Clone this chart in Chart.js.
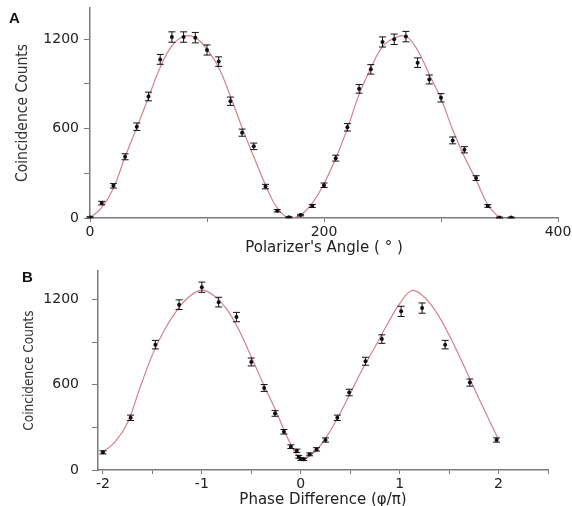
<!DOCTYPE html>
<html>
<head>
<meta charset="utf-8">
<script src="https://cdn.jsdelivr.net/npm/chart.js@4"></script>
<style>
  body { margin: 0; background: #fff; }
  #wrap { position: relative; width: 572px; height: 506px; overflow: hidden; background: #fff; }
  canvas { position: absolute; left: 0; }
  .panel { position: absolute; font: bold 15px "Liberation Sans", Arial, sans-serif; color: #111; line-height: 17px; }
</style>
</head>
<body>
<div id="wrap">
  <canvas id="chartA" width="572" height="262" style="top:0"></canvas>
  <canvas id="chartB" width="572" height="246" style="top:262px"></canvas>
  <div class="panel" style="left:9px;top:9px">A</div>
  <div class="panel" style="left:22px;top:268px">B</div>
</div>
<script>
// panel A: polarizer angle scan
const angleA = [0, 10, 20, 30, 40, 50, 60, 70, 80, 90, 100, 110, 120, 130, 140, 150, 160, 170,
  180, 190, 200, 210, 220, 230, 240, 250, 260, 270, 280, 290, 300, 310, 320, 330, 340, 350, 360];
const countsA = [5, 100, 216, 411, 613, 816, 1065, 1215, 1215, 1211, 1128, 1050, 784, 573, 481, 211, 49, 5,
  20, 81, 220, 402, 609, 867, 998, 1182, 1200, 1218, 1043, 930, 807, 521, 458, 268, 81, 3, 3];
const errA = [4, 12, 15, 20, 25, 29, 33, 35, 35, 35, 34, 32, 28, 24, 22, 15, 8, 4,
  5, 10, 15, 20, 25, 29, 32, 34, 35, 35, 32, 30, 28, 23, 21, 16, 9, 3, 3];
const fitAngleA = [0, 10, 20, 30, 40, 50, 60, 70, 80, 90, 100, 110, 120, 130, 140, 150, 160, 170,
  180, 190, 200, 210, 220, 230, 240, 250, 260, 270, 280, 290, 300, 310, 320, 330, 340, 350];
const fitCountsA = [0, 70, 200, 411, 607, 809, 1011, 1155, 1220, 1211, 1133, 1011, 818, 607, 411, 222, 67, 0,
  20, 100, 230, 400, 600, 830, 1006, 1150, 1207, 1220, 1126, 964, 800, 593, 411, 256, 88, 0];
const ticksAX = [0, 100, 200, 300, 400];
const labelsAX = [0, 200, 400];
const ticksAY = [0, 300, 600, 900, 1200];
const labelsAY = [0, 600, 1200];

// panel B: phase difference scan
const phaseB = [-2, -1.72, -1.47, -1.23, -1.0, -0.83, -0.65, -0.5, -0.37, -0.26, -0.17, -0.1, -0.04, -0.02,
  0, 0.03, 0.09, 0.16, 0.25, 0.37, 0.49, 0.655, 0.82, 1.015, 1.227, 1.46, 1.71, 1.98];
const countsB = [124, 367, 882, 1163, 1286, 1181, 1076, 760, 577, 398, 269, 164, 135, 93,
  77, 75, 110, 145, 211, 367, 545, 765, 921, 1116, 1139, 882, 615, 211];
const errB = [11, 19, 30, 34, 36, 34, 33, 28, 24, 20, 16, 13, 12, 10,
  9, 9, 10, 12, 15, 19, 23, 28, 30, 36, 36, 30, 25, 15];
const fitPhaseB = [-2, -1.875, -1.75, -1.625, -1.5, -1.375, -1.25, -1.125, -1, -0.875, -0.75, -0.625,
  -0.5, -0.375, -0.25, -0.125, 0, 0.125, 0.25, 0.375, 0.5, 0.625, 0.75, 0.875,
  1, 1.125, 1.25, 1.375, 1.5, 1.625, 1.75, 1.875, 2];
const fitCountsB = [125, 200, 335, 580, 810, 990, 1125, 1220, 1265, 1225, 1134, 985,
  795, 600, 415, 215, 80, 120, 222, 370, 538, 710, 865, 1025,
  1170, 1263, 1215, 1105, 950, 770, 580, 395, 215];
const ticksBX = [-2, -1.5, -1, -0.5, 0, 0.5, 1, 1.5, 2, 2.5];
const labelsBX = [-2, -1, 0, 1, 2];
const ticksBY = [0, 300, 600, 900, 1200];
const labelsBY = [0, 600, 1200];

const axisColor = '#7a7a7a';
const tickFont = { family: '"DejaVu Sans", sans-serif', size: 14 };

const errorBars = {
  id: 'errorBars',
  afterDatasetsDraw(chart) {
    const { ctx, scales: { x, y } } = chart;
    chart.data.datasets.forEach(ds => {
      if (!ds.errors) return;
      ctx.save();
      ctx.strokeStyle = '#111';
      ctx.lineWidth = 1;
      ds.data.forEach((p, i) => {
        const px = x.getPixelForValue(p.x);
        const top = y.getPixelForValue(p.y + ds.errors[i]);
        const bot = y.getPixelForValue(p.y - ds.errors[i]);
        ctx.beginPath();
        ctx.moveTo(px, top); ctx.lineTo(px, bot);
        ctx.moveTo(px - 3.5, top); ctx.lineTo(px + 3.5, top);
        ctx.moveTo(px - 3.5, bot); ctx.lineTo(px + 3.5, bot);
        ctx.stroke();
      });
      ctx.restore();
    });
  }
};

const toPoints = (xs, ys) => xs.map((v, i) => ({ x: v, y: ys[i] }));

function makePanel(id, p) {
  return new Chart(document.getElementById(id), {
    type: 'scatter',
    data: {
      datasets: [{
        data: toPoints(p.xs, p.ys),
        errors: p.errs,
        pointRadius: 2,
        pointBackgroundColor: '#111',
        pointBorderColor: '#111',
        pointBorderWidth: 0
      }, {
        data: toPoints(p.fitXs, p.fitYs),
        showLine: true,
        pointRadius: 0,
        borderColor: 'rgba(205,115,125,0.9)',
        borderWidth: 1.2,
        tension: 0.4
      }]
    },
    options: {
      responsive: false,
      animation: false,
      layout: { padding: p.padding },
      plugins: { legend: { display: false }, tooltip: { enabled: false } },
      scales: {
        x: {
          type: 'linear', min: p.xMin, max: p.xMax,
          afterBuildTicks: s => { s.ticks = p.xTicks.map(v => ({ value: v })); },
          afterFit: s => { s.height = p.xHeight; s.paddingLeft = 0; s.paddingRight = 0; },
          grid: { drawOnChartArea: false, tickLength: 4, color: axisColor, tickColor: axisColor },
          border: { color: axisColor, width: 1.5 },
          ticks: {
            autoSkip: false, maxRotation: 0,
            padding: 2, color: '#222', font: tickFont,
            callback: v => p.xLabels.includes(v) ? String(v) : ''
          },
          title: {
            display: true, text: p.xTitle, color: '#222',
            font: { family: '"DejaVu Sans", sans-serif', size: 15, lineHeight: 1 },
            padding: { top: 0, bottom: p.xTitlePad }
          }
        },
        y: {
          min: 0, max: p.yMax,
          afterBuildTicks: s => { s.ticks = p.yTicks.map(v => ({ value: v })); },
          afterFit: s => { s.width = p.yWidth; s.paddingTop = 0; s.paddingBottom = 0; },
          grid: { drawOnChartArea: false, tickLength: 6, color: axisColor, tickColor: axisColor },
          border: { color: axisColor, width: 1.5 },
          ticks: {
            autoSkip: false, padding: p.yTickPad, color: '#222', font: tickFont,
            callback: v => p.yLabels.includes(v) ? String(v) : ''
          },
          title: {
            display: true, text: 'Coincidence Counts', color: '#333',
            font: { family: '"Liberation Sans Narrow", "DejaVu Sans Condensed", sans-serif', size: p.yTitleSize, lineHeight: 1 },
            padding: { top: p.yTitlePad, bottom: 0 }
          }
        }
      }
    },
    plugins: [errorBars]
  });
}

makePanel('chartA', {
  xs: angleA, ys: countsA, errs: errA, fitXs: fitAngleA, fitYs: fitCountsA,
  xMin: 0, xMax: 400, xTicks: ticksAX, xLabels: labelsAX,
  yMax: 1410, yTicks: ticksAY, yLabels: labelsAY,
  padding: { left: 0, right: 14, top: 8, bottom: 0 },
  xHeight: 44, yWidth: 90, yTickPad: 5,
  xTitle: "Polarizer's Angle ( \u00b0 )", xTitlePad: 6,
  yTitleSize: 15.5, yTitlePad: 15
});

makePanel('chartB', {
  xs: phaseB, ys: countsB, errs: errB, fitXs: fitPhaseB, fitYs: fitCountsB,
  xMin: -2.05, xMax: 2.5, xTicks: ticksBX, xLabels: labelsBX,
  yMax: 1400, yTicks: ticksBY, yLabels: labelsBY,
  padding: { left: 0, right: 24, top: 9, bottom: 0 },
  xHeight: 38, yWidth: 98, yTickPad: 13,
  xTitle: 'Phase Difference (\u03c6/\u03c0)', xTitlePad: 0,
  yTitleSize: 13.5, yTitlePad: 23
});
</script>
</body>
</html>
